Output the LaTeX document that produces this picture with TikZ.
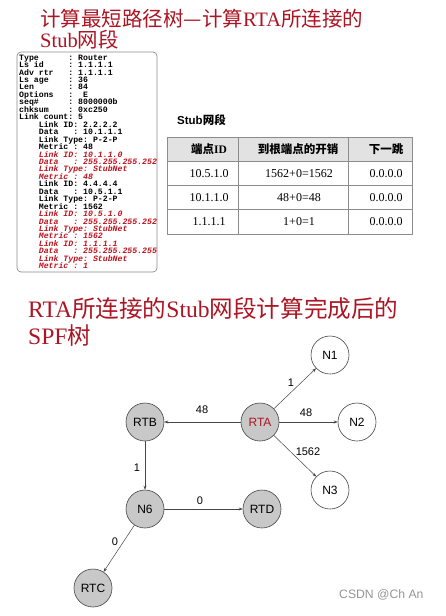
\documentclass[tikz,border=0pt]{standalone}
\usepackage{fontspec}
\setmainfont{Liberation Serif}
\setsansfont{Liberation Sans}
\setmonofont{Liberation Mono}
\newfontfamily\cjk{Noto Sans CJK SC}
\usetikzlibrary{arrows.meta}
\definecolor{titlered}{RGB}{172,22,36}
\definecolor{lsared}{RGB}{190,20,30}
\definecolor{boxgray}{RGB}{140,140,140}
\definecolor{nodegray}{RGB}{200,200,200}
\definecolor{edgegray}{RGB}{70,70,70}
\definecolor{headgray}{RGB}{226,226,226}
\begin{document}
\begin{tikzpicture}[x=1pt,y=-1pt,
  title/.style={anchor=base west,inner sep=0pt,text=titlered},
  lsa/.style={anchor=north west,inner sep=0pt,align=left,font={\fontsize{8.2}{7.45}\selectfont\ttfamily\bfseries\lineskiplimit=-20pt\lineskip=0pt}},
  cell/.style={inner sep=0pt,anchor=base,font=\fontsize{12}{14}\selectfont},
  head/.style={inner sep=0pt,anchor=base,font=\fontsize{11.5}{14}\selectfont\bfseries},
  rnode/.style={circle,draw=edgegray,line width=0.6pt,fill=nodegray,minimum size=38pt,inner sep=0pt,font=\sffamily\fontsize{12}{14}\selectfont},
  wnode/.style={circle,draw=edgegray,line width=0.6pt,fill=white,minimum size=38pt,inner sep=0pt,font=\sffamily\fontsize{12}{14}\selectfont},
  edge/.style={draw=edgegray,line width=0.5pt,-{Stealth[length=4pt,width=3pt]}},
  elabel/.style={inner sep=0pt,font=\sffamily\fontsize{11}{13}\selectfont}
]
\useasboundingbox (0,0) rectangle (446,616);
\fill[white] (0,0) rectangle (446,616);

% Title 1
\node[title,font=\fontsize{20.5}{24}\selectfont] (t1) at (40,26.5) {{\cjk 计算最短路径树—计算}RTA{\cjk 所连接的}};
\node[title,font=\fontsize{20.5}{24}\selectfont] (t2) at (40,47) {Stub{\cjk 网段}};

% LSA box
\draw[boxgray,line width=0.7pt,rounded corners=4pt] (17,52) rectangle (157,272);
\node[lsa] (lsatext) at (19,54.5) {%
Type~~~~~~:~Router\\
Ls~id~~~~~:~1.1.1.1\\
Adv~rtr~~~:~1.1.1.1\\
Ls~age~~~~:~36\\
Len~~~~~~~:~84\\
Options~~~:~~E\\
seq\#~~~~~~:~8000000b\\
chksum~~~~:~0xc250\\
Link~count:~5\\
~~~~Link~ID:~2.2.2.2\\
~~~~Data~~~:~10.1.1.1\\
~~~~Link~Type:~P-2-P\\
~~~~Metric~:~48\\
{\color{lsared}\itshape ~~~~Link~ID:~10.1.1.0}\\
{\color{lsared}\itshape ~~~~Data~~~:~255.255.255.252}\\
{\color{lsared}\itshape ~~~~Link~Type:~StubNet}\\
{\color{lsared}\itshape ~~~~Metric~:~48}\\
~~~~Link~ID:~4.4.4.4\\
~~~~Data~~~:~10.5.1.1\\
~~~~Link~Type:~P-2-P\\
~~~~Metric~:~1562\\
{\color{lsared}\itshape ~~~~Link~ID:~10.5.1.0}\\
{\color{lsared}\itshape ~~~~Data~~~:~255.255.255.252}\\
{\color{lsared}\itshape ~~~~Link~Type:~StubNet}\\
{\color{lsared}\itshape ~~~~Metric~:~1562}\\
{\color{lsared}\itshape ~~~~Link~ID:~1.1.1.1}\\
{\color{lsared}\itshape ~~~~Data~~~:~255.255.255.255}\\
{\color{lsared}\itshape ~~~~Link~Type:~StubNet}\\
{\color{lsared}\itshape ~~~~Metric~:~1}};

% Table
\node[inner sep=0pt,anchor=base west,font=\sffamily\bfseries\fontsize{11.5}{14}\selectfont] (tcap) at (177,124) {Stub{\cjk\bfseries 网段}};
\fill[headgray] (167,137) rectangle (412,161.5);
\draw[boxgray,line width=0.7pt] (167,137) rectangle (412,234);
\draw[boxgray,line width=0.6pt] (167,161.5) -- (412,161.5) (167,185.5) -- (412,185.5) (167,209.5) -- (412,209.5)
  (238,137) -- (238,234) (348,137) -- (348,234);
\node[head] (h1) at (209,153) {{\cjk\bfseries 端点}ID};
\node[head] (h2) at (298,153) {{\cjk\bfseries 到根端点的开销}};
\node[head] (h3) at (386,153) {{\cjk\bfseries 下一跳}};
\node[cell] (c11) at (209,177.5) {10.5.1.0};
\node[cell] (c12) at (299,177.5) {1562+0=1562};
\node[cell] (c13) at (386,177.5) {0.0.0.0};
\node[cell] (c21) at (209,201.5) {10.1.1.0};
\node[cell] (c22) at (299,201.5) {48+0=48};
\node[cell] (c23) at (386,201.5) {0.0.0.0};
\node[cell] (c31) at (209,225.5) {1.1.1.1};
\node[cell] (c32) at (299,225.5) {1+0=1};
\node[cell] (c33) at (386,225.5) {0.0.0.0};

% Title 2
\node[title,font=\fontsize{23.6}{27}\selectfont] (t3) at (28,317) {RTA{\cjk 所连接的}Stub{\cjk 网段计算完成后的}};
\node[title,font=\fontsize{23.6}{27}\selectfont] (t4) at (28,344) {SPF{\cjk 树}};

% Graph
\node[wnode] (N1) at (330,355) {N1};
\node[rnode] (RTB) at (145,422) {RTB};
\node[rnode,text=titlered] (RTA) at (260,422) {RTA};
\node[wnode] (N2) at (357,422) {N2};
\node[wnode] (N3) at (330,490) {N3};
\node[rnode] (N6) at (145,509) {N6};
\node[rnode] (RTD) at (262,509) {RTD};
\node[rnode] (RTC) at (93,588) {RTC};

\draw[edge] (RTA) -- (RTB);
\draw[edge] (RTA) -- (N1);
\draw[edge] (RTA) -- (N2);
\draw[edge] (RTA) -- (N3);
\draw[edge] (RTB) -- (N6);
\draw[edge] (N6) -- (RTD);
\draw[edge] (N6) -- (RTC);

\node[elabel] (l1) at (291,383) {1};
\node[elabel] (l2) at (202,410) {48};
\node[elabel] (l3) at (306,413) {48};
\node[elabel] (l4) at (308,452) {1562};
\node[elabel] (l5) at (137,468) {1};
\node[elabel] (l6) at (200,501) {0};
\node[elabel] (l7) at (115,542) {0};

% Watermark
\node[inner sep=0pt,anchor=base west,text={rgb,255:red,150;green,150;blue,150},font=\sffamily\fontsize{12.2}{14}\selectfont] (wm) at (339,598) {CSDN @Ch An};
\end{tikzpicture}
\end{document}
